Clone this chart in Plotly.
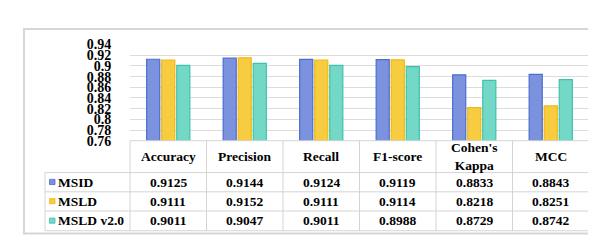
import plotly.graph_objects as go

categories = ["Accuracy", "Precision", "Recall", "F1-score", "Cohen's<br>Kappa", "MCC"]
series_names = ["MSID", "MSLD", "MSLD v2.0"]
msid = [0.9125, 0.9144, 0.9124, 0.9119, 0.8833, 0.8843]
msld = [0.9111, 0.9152, 0.9111, 0.9114, 0.8218, 0.8251]
msld_v2 = [0.9011, 0.9047, 0.9011, 0.8988, 0.8729, 0.8742]
tick_vals = [0.76, 0.78, 0.80, 0.82, 0.84, 0.86, 0.88, 0.90, 0.92, 0.94]
tick_text = ["0.76", "0.78", "0.8", "0.82", "0.84", "0.86", "0.88", "0.9", "0.92", "0.94"]

series_values = [msid, msld, msld_v2]
fill_colors = ["#7b93de", "#f7cc40", "#74d8c6"]
line_colors = ["#4d6ccd", "#efba12", "#3ec2ae"]

W, H = 596, 242
FONT = "Liberation Serif"
FS = 13.5
GRID = "#dcdcdc"
BASE = 0.76


def px(x):
    return x / W


def py(y):
    return 1 - y / H


fig = go.Figure()
for name, vals, fc, lc in zip(series_names, series_values, fill_colors, line_colors):
    fig.add_trace(go.Bar(
        x=list(range(len(categories))), y=[v - BASE for v in vals], base=BASE, name=name,
        customdata=vals, hovertemplate="%{customdata}<extra>" + name + "</extra>",
        marker=dict(color=fc, line=dict(color=lc, width=1.2)),
        showlegend=False,
    ))

x0_plot, x1_plot = 122, 581
y_top, y_bot = 31.5, 134

fig.update_layout(
    width=W, height=H,
    margin=dict(l=0, r=0, t=0, b=0),
    paper_bgcolor="white", plot_bgcolor="white",
    barmode="group", bargap=0.41, bargroupgap=0.13,
    font=dict(family=FONT, size=FS, color="black"),
    xaxis=dict(domain=[px(x0_plot), px(x1_plot)], range=[-0.5, len(categories) - 0.5],
               showticklabels=False, showgrid=False, zeroline=False, fixedrange=True),
    yaxis=dict(domain=[py(y_bot), py(y_top)], range=[0.76, 0.94],
               tickvals=tick_vals, ticktext=tick_text,
               tickfont=dict(family=FONT, size=14, color="black", weight="bold"),
               ticks="outside", ticklen=15, tickcolor="rgba(0,0,0,0)",
               showgrid=True, gridcolor=GRID, gridwidth=1, zeroline=False,
               fixedrange=True),
)

shapes = []
shapes.append(dict(type="rect", xref="paper", yref="paper",
                   x0=px(16), x1=px(581), y0=py(233), y1=py(15),
                   line=dict(color="#d6d6d6", width=2), layer="below"))

col_edges = [122 + i * (581 - 122) / len(categories) for i in range(len(categories) + 1)]
row_edges = [168, 188.5, 209, 230]
line_style = dict(color="#d4d4d4", width=1)
shapes.append(dict(type="line", xref="paper", yref="paper", x0=px(122), x1=px(581),
                   y0=py(134), y1=py(134), line=line_style))
for ry in row_edges:
    shapes.append(dict(type="line", xref="paper", yref="paper", x0=px(37), x1=px(581),
                       y0=py(ry), y1=py(ry), line=line_style))
for cx in col_edges:
    shapes.append(dict(type="line", xref="paper", yref="paper", x0=px(cx), x1=px(cx),
                       y0=py(134), y1=py(230), line=line_style))
shapes.append(dict(type="line", xref="paper", yref="paper", x0=px(37), x1=px(37),
                   y0=py(168), y1=py(230), line=line_style))

annotations = []
col_centers = [(col_edges[i] + col_edges[i + 1]) / 2 for i in range(len(categories))]
for cx, cat in zip(col_centers, categories):
    annotations.append(dict(xref="paper", yref="paper", x=px(cx), y=py(151), text="<b>" + cat + "</b>",
                            showarrow=False, xanchor="center", yanchor="middle",
                            font=dict(family=FONT, size=FS, color="black")))
row_centers = [(row_edges[i] + row_edges[i + 1]) / 2 for i in range(3)]
for ry, name, vals, fc, lc in zip(row_centers, series_names, series_values, fill_colors, line_colors):
    shapes.append(dict(type="rect", xref="paper", yref="paper",
                       x0=px(41.5), x1=px(47), y0=py(ry + 2.5), y1=py(ry - 3),
                       fillcolor=fc, line=dict(color=lc, width=0.8)))
    annotations.append(dict(xref="paper", yref="paper", x=px(47.5), y=py(ry), text="<b>" + name + "</b>",
                            showarrow=False, xanchor="left", yanchor="middle",
                            font=dict(family=FONT, size=FS, color="black")))
    for cx, v in zip(col_centers, vals):
        annotations.append(dict(xref="paper", yref="paper", x=px(cx), y=py(ry),
                                text="<b>%.4f</b>" % v,
                                showarrow=False, xanchor="center", yanchor="middle",
                                font=dict(family=FONT, size=FS, color="black")))

fig.update_layout(shapes=shapes, annotations=annotations)
fig.write_html("out.html")
